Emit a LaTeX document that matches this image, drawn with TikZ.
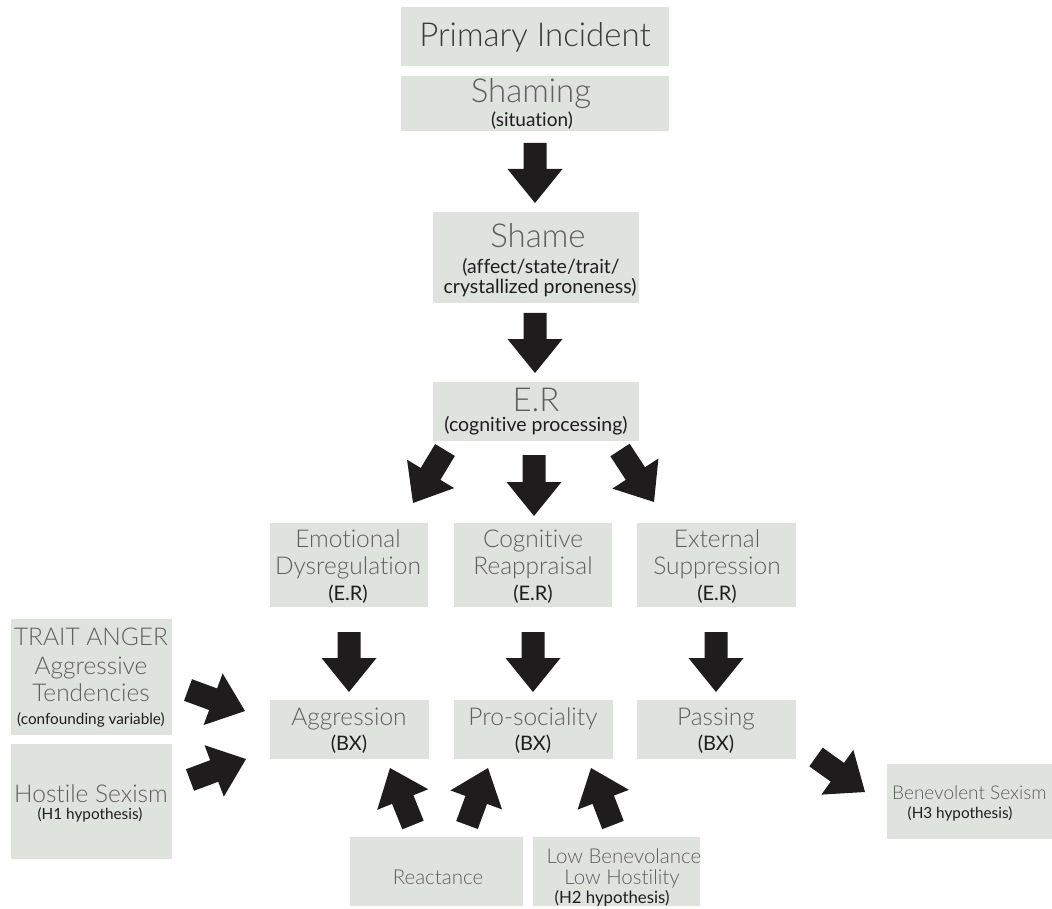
\documentclass[tikz,border=0pt]{standalone}
\usepackage{fontspec}
\setmainfont{Lato}[Ligatures=NoCommon, Contextuals=NoAlternate]
\newfontfamily\lightfont{Lato Light}[Ligatures=NoCommon, Contextuals=NoAlternate]
\usetikzlibrary{calc,fit}
\definecolor{boxfill}{HTML}{DFE3DD}
\definecolor{ttlgray}{HTML}{5E5E5E}
\definecolor{ttldark}{HTML}{3A3A3A}
\definecolor{subdark}{HTML}{1E1E1E}
\definecolor{arrowblack}{HTML}{1F1C1D}
\newcommand\blockarr[2]{%
  \fill[arrowfill]
    ($(#1)!11.5pt!90:(#2)$) --
    ($($(#2)!34pt!(#1)$)!11.5pt!90:(#2)$) --
    ($($(#2)!34pt!(#1)$)!27.5pt!90:(#2)$) --
    (#2) --
    ($($(#2)!34pt!(#1)$)!27.5pt!-90:(#2)$) --
    ($($(#2)!34pt!(#1)$)!11.5pt!-90:(#2)$) --
    ($(#1)!11.5pt!-90:(#2)$) -- cycle;}
\tikzset{
  box/.style={fill=boxfill, draw=none, inner sep=0pt},
  arrowfill/.style={fill=arrowblack},
  ttlL/.style={font=\lightfont\fontsize{33}{36}\selectfont, text=ttlgray, inner sep=0pt},
  ttlM/.style={font=\lightfont\fontsize{24.5}{27}\selectfont, text=ttlgray, inner sep=0pt},
  ttlS/.style={font=\lightfont\fontsize{20.5}{23}\selectfont, text=ttlgray, inner sep=0pt},
  subL/.style={font=\fontsize{19.5}{22}\selectfont, text=subdark, inner sep=0pt},
  subM/.style={font=\fontsize{20}{23}\selectfont, text=subdark, inner sep=0pt},
  subS/.style={font=\fontsize{15.3}{18}\selectfont, text=subdark, inner sep=0pt},
}
\begin{document}
\begin{tikzpicture}[x=1pt,y=-1pt]
\useasboundingbox (0,0) rectangle (1052,909);
% boxes
\node[box, fit={(401,7) (669,66)}] (pi) {};
\node[box, fit={(401,76) (669,131)}] (shaming) {};
\node[box, fit={(433,212) (639,303)}] (shame) {};
\node[box, fit={(433,382) (639,441)}] (er) {};
\node[box, fit={(270,523) (428,607)}] (emo) {};
\node[box, fit={(454,523) (612,607)}] (cog) {};
\node[box, fit={(637,523) (796,607)}] (ext) {};
\node[box, fit={(270,700) (429,759)}] (agg) {};
\node[box, fit={(454,700) (613,759)}] (pro) {};
\node[box, fit={(637,700) (796,759)}] (pas) {};
\node[box, fit={(11,619) (172,735)}] (trait) {};
\node[box, fit={(11,744) (172,859)}] (host) {};
\node[box, fit={(350,837) (523,906)}] (react) {};
\node[box, fit={(533,837) (700,906)}] (lowb) {};
\node[box, fit={(887,764) (1070,839)}] (bene) {};
% texts
\node[ttlL, text=ttldark, anchor=base] (pi-t) at (535,47) {Primary Incident};
\node[ttlL, anchor=base] (shaming-t) at (531,103) {Shaming};
\node[subL, font=\fontsize{19}{22}\selectfont, anchor=base] (shaming-s) at (532,127) {(situation)};
\node[ttlL, anchor=base] (shame-t) at (538,248) {Shame};
\node[subL, anchor=base] (shame-s1) at (541,274) {(affect/state/trait/};
\node[subL, anchor=base] (shame-s2) at (540,294) {crystallized proneness)};
\node[ttlL, anchor=base] (er-t) at (536,411) {E.R};
\node[subL, anchor=base] (er-s) at (536,431) {(cognitive processing)};
\node[ttlM, anchor=base] (emo-t1) at (348,547) {Emotional};
\node[ttlM, anchor=base] (emo-t2) at (348,574) {Dysregulation};
\node[subL, font=\fontsize{20}{23}\selectfont, anchor=base] (emo-s) at (348,600) {(E.R)};
\node[ttlM, anchor=base] (cog-t1) at (533,547) {Cognitive};
\node[ttlM, anchor=base] (cog-t2) at (533,574) {Reappraisal};
\node[subL, font=\fontsize{20}{23}\selectfont, anchor=base] (cog-s) at (533,600) {(E.R)};
\node[ttlM, anchor=base] (ext-t1) at (717,547) {External};
\node[ttlM, anchor=base] (ext-t2) at (717,574) {Suppression};
\node[subL, font=\fontsize{20}{23}\selectfont, anchor=base] (ext-s) at (717,600) {(E.R)};
\node[ttlM, anchor=base] (agg-t) at (349,725) {Aggression};
\node[subM, anchor=base] (agg-s) at (349,750) {(BX)};
\node[ttlM, anchor=base] (pro-t) at (533,725) {Pro-sociality};
\node[subM, anchor=base] (pro-s) at (533,750) {(BX)};
\node[ttlM, anchor=base] (pas-t) at (716,725) {Passing};
\node[subM, anchor=base] (pas-s) at (716,750) {(BX)};
\node[ttlM, anchor=base] (trait-t1) at (91,645) {TRAIT ANGER};
\node[ttlM, anchor=base] (trait-t2) at (91,674) {Aggressive};
\node[ttlM, anchor=base] (trait-t3) at (91,701) {Tendencies};
\node[subS, anchor=base] (trait-s) at (91,724) {(confounding variable)};
\node[ttlM, anchor=base] (host-t) at (91,802) {Hostile Sexism};
\node[subS, anchor=base] (host-s) at (90,819) {(H1 hypothesis)};
\node[ttlS, anchor=base] (react-t) at (438,884) {Reactance};
\node[ttlS, anchor=base] (lowb-t1) at (624,863) {Low Benevolance};
\node[ttlS, anchor=base] (lowb-t2) at (622,884) {Low Hostility};
\node[subS, font=\fontsize{16.8}{19}\selectfont, anchor=base] (lowb-s) at (612,903) {(H2 hypothesis)};
\node[ttlS, font=\lightfont\fontsize{19}{22}\selectfont, anchor=base west] (bene-t) at (892,799) {Benevolent Sexism};
\node[subS, anchor=base] (bene-s) at (960,818) {(H3 hypothesis)};
% arrow end points
\coordinate (a1s) at (535,143); \coordinate (a1e) at (535,203);
\coordinate (a2s) at (535,313); \coordinate (a2e) at (535,373);
\coordinate (a3s) at (534,455); \coordinate (a3e) at (534,516);
\coordinate (a4s) at (445,450); \coordinate (a4e) at (413,503);
\coordinate (a5s) at (620,450); \coordinate (a5e) at (654,502);
\coordinate (a6s) at (349,632); \coordinate (a6e) at (349,692);
\coordinate (a7s) at (533,632); \coordinate (a7e) at (533,692);
\coordinate (a8s) at (716,632); \coordinate (a8e) at (716,692);
\coordinate (a9s) at (188,690); \coordinate (a9e) at (245,711);
\coordinate (a10s) at (190,780); \coordinate (a10e) at (246,759);
\coordinate (a11s) at (413,825); \coordinate (a11e) at (390,768);
\coordinate (a12s) at (467,825); \coordinate (a12e) at (488,768);
\coordinate (a13s) at (613,825); \coordinate (a13e) at (591,768);
\coordinate (a14s) at (816,757); \coordinate (a14e) at (865,792);
\blockarr{a1s}{a1e}
\blockarr{a2s}{a2e}
\blockarr{a3s}{a3e}
\blockarr{a4s}{a4e}
\blockarr{a5s}{a5e}
\blockarr{a6s}{a6e}
\blockarr{a7s}{a7e}
\blockarr{a8s}{a8e}
\blockarr{a9s}{a9e}
\blockarr{a10s}{a10e}
\blockarr{a11s}{a11e}
\blockarr{a12s}{a12e}
\blockarr{a13s}{a13e}
\blockarr{a14s}{a14e}
\end{tikzpicture}
\end{document}
